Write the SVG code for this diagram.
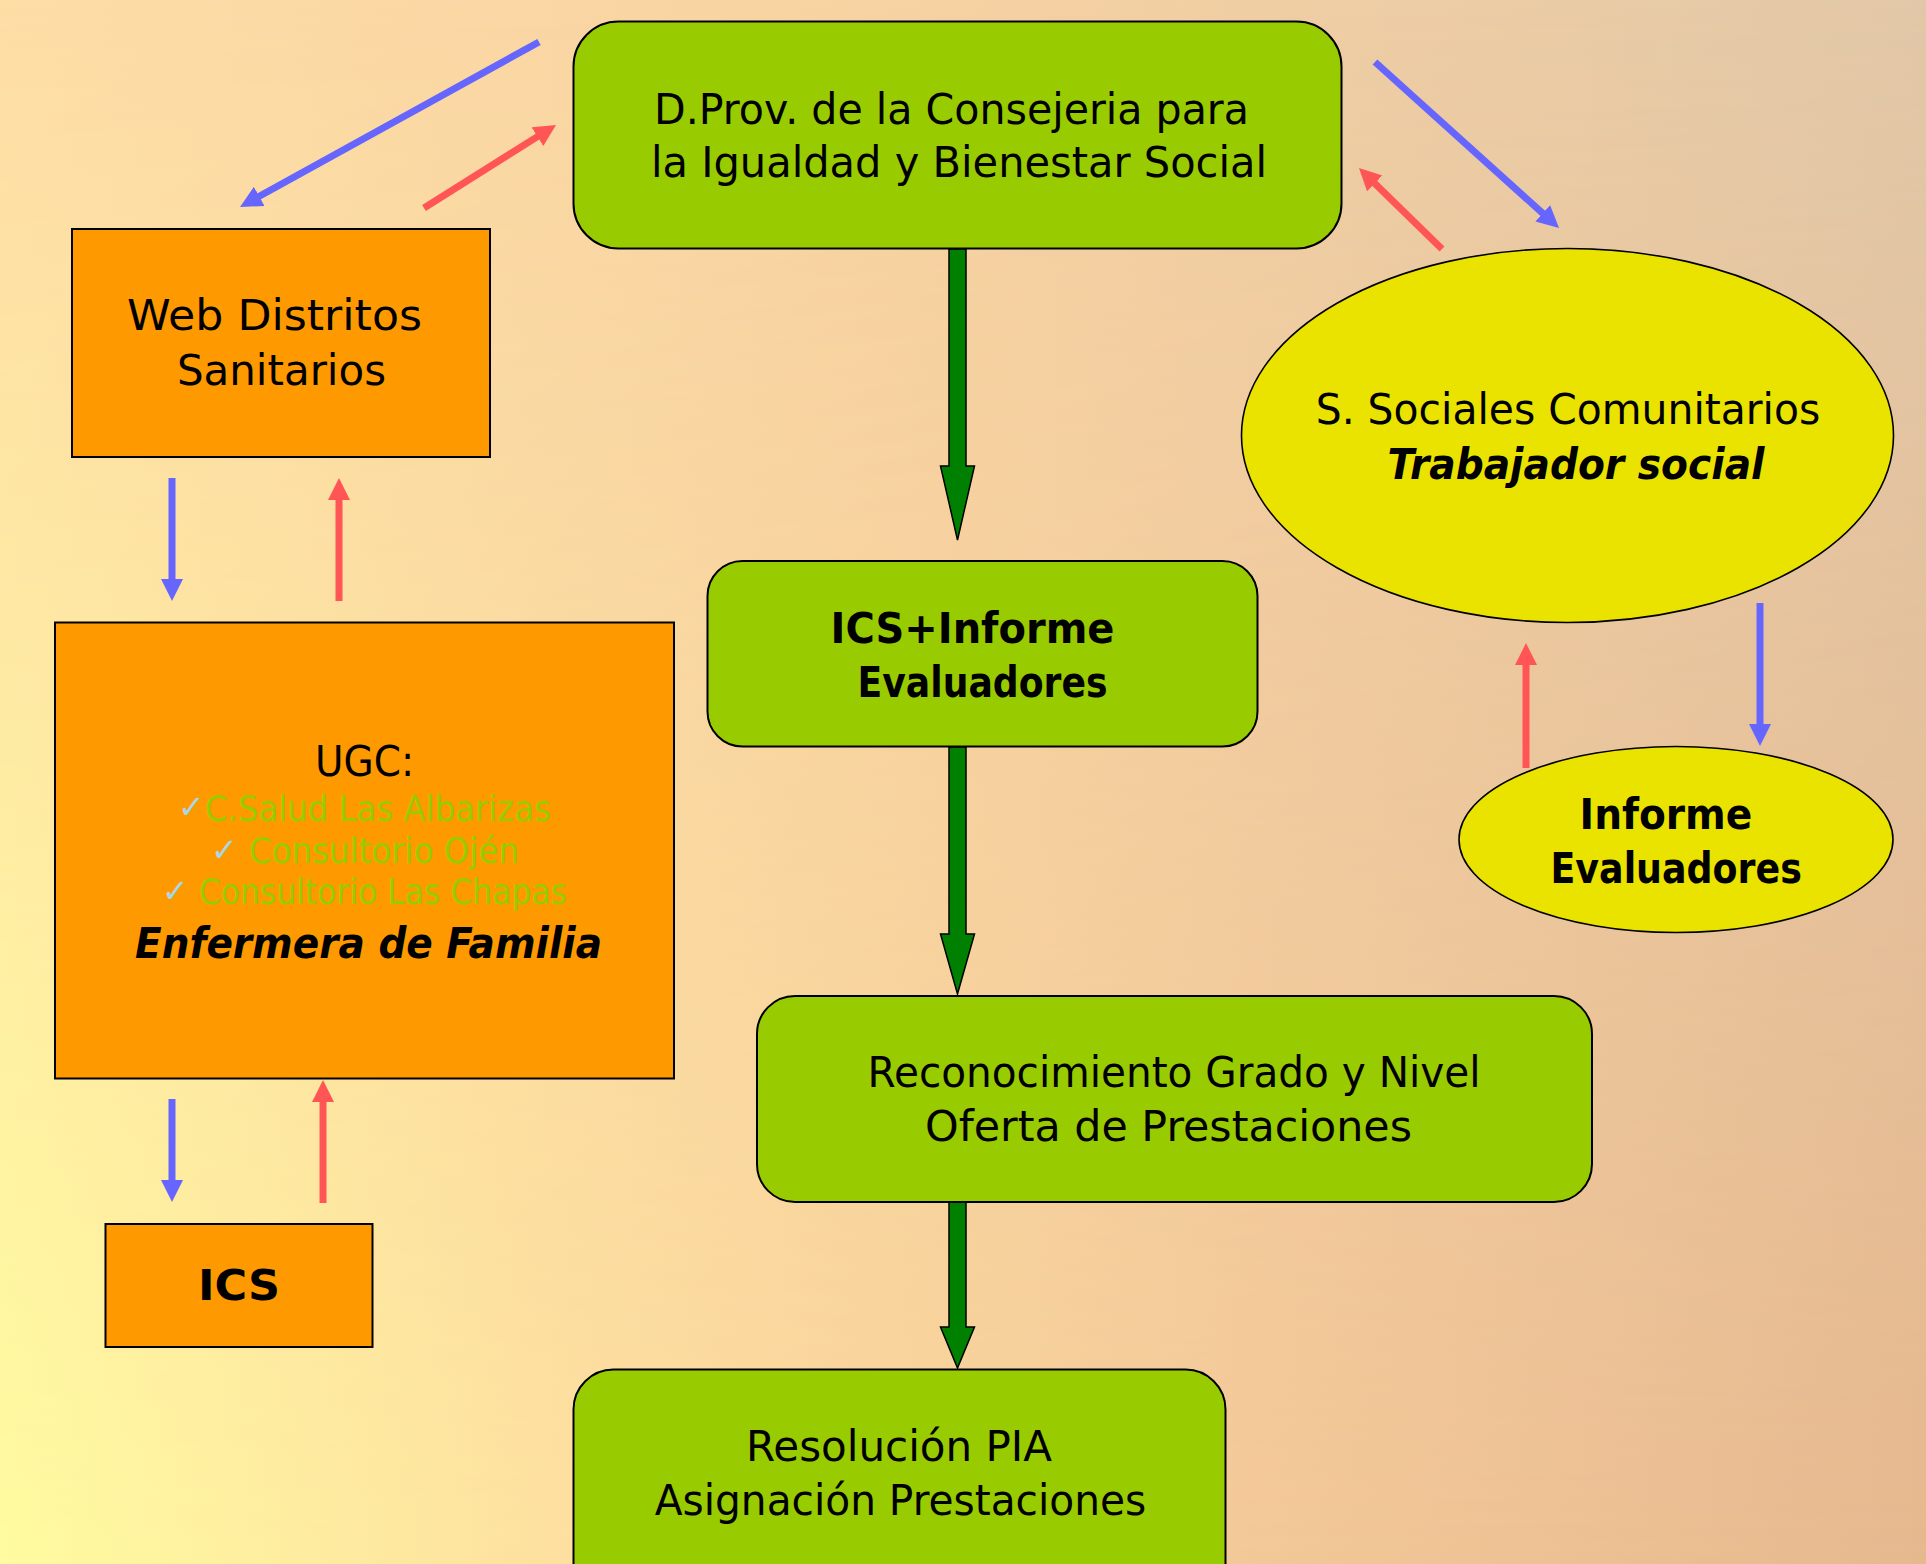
<svg xmlns="http://www.w3.org/2000/svg" width="1926" height="1564" viewBox="0 0 1926 1564">
<defs>
<linearGradient id="bgTop" x1="0" y1="0" x2="1" y2="0">
<stop offset="0" stop-color="#FEDDA6"/><stop offset="0.5" stop-color="#F6D1A2"/><stop offset="1" stop-color="#E2C8A8"/>
</linearGradient>
<linearGradient id="bgBot" x1="0" y1="0" x2="1" y2="0">
<stop offset="0" stop-color="#FFFBA0"/><stop offset="0.3" stop-color="#FDDF9F"/><stop offset="0.65" stop-color="#F3C898"/><stop offset="1" stop-color="#E6B88E"/>
</linearGradient>
<linearGradient id="fade" x1="0" y1="0" x2="0" y2="1">
<stop offset="0" stop-color="#000"/><stop offset="1" stop-color="#fff"/>
</linearGradient>
<mask id="fadeMask"><rect x="0" y="0" width="1926" height="1564" fill="url(#fade)"/></mask>
<marker id="headBlue" markerUnits="userSpaceOnUse" markerWidth="24" markerHeight="24" refX="2" refY="11" orient="auto">
<path d="M0,0 L22,11 L0,22 Z" fill="#6666FF"/>
</marker>
<marker id="headRed" markerUnits="userSpaceOnUse" markerWidth="24" markerHeight="24" refX="2" refY="11" orient="auto">
<path d="M0,0 L22,11 L0,22 Z" fill="#FF5555"/>
</marker>
<style>
.t{font-family:"Comic Sans MS","DejaVu Sans",sans-serif;font-size:42px;fill:#000;}
.b{font-weight:bold;}
.i{font-style:italic;}
.list{font-size:36px;fill:#99CC00;}
.chk{font-size:32px;fill:#A8D8E6;}
.green{fill:#99CC00;stroke:#000;stroke-width:2;}
.orange{fill:#FF9900;stroke:#000;stroke-width:2;}
.yellow{fill:#EAE300;stroke:#000;stroke-width:1.6;}
.blue{stroke:#6666FF;stroke-width:7;fill:none;marker-end:url(#headBlue);}
.red{stroke:#FF5555;stroke-width:7;fill:none;marker-end:url(#headRed);}
.flow{fill:#008000;stroke:#000;stroke-width:1.5;}
</style>
</defs>
<rect x="0" y="0" width="1926" height="1564" fill="url(#bgTop)"/>
<rect x="0" y="0" width="1926" height="1564" fill="url(#bgBot)" mask="url(#fadeMask)"/>

<g id="connectors">
<line class="blue" x1="539" y1="42" x2="257.5" y2="197.3"/>
<line class="red" x1="424" y1="208" x2="539.1" y2="135.6"/>
<line class="blue" x1="172" y1="478" x2="172" y2="581"/>
<line class="red" x1="339" y1="601" x2="339" y2="498"/>
<line class="blue" x1="172" y1="1099" x2="172" y2="1182"/>
<line class="red" x1="323" y1="1203" x2="323" y2="1100"/>
<line class="blue" x1="1375" y1="62" x2="1544.2" y2="214.6"/>
<line class="red" x1="1442" y1="249" x2="1373.3" y2="182"/>
<line class="blue" x1="1760" y1="603" x2="1760" y2="726"/>
<line class="red" x1="1526" y1="768" x2="1526" y2="663"/>
<path class="flow" d="M949,249 L966,249 L966,466 L974.5,466 L957.5,540 L940.5,466 L949,466 Z"/>
<path class="flow" d="M949,747 L966,747 L966,934 L974.5,934 L957.5,994 L940.5,934 L949,934 Z"/>
<path class="flow" d="M949,1202 L966,1202 L966,1327 L974.5,1327 L957.5,1368 L940.5,1327 L949,1327 Z"/>
</g>

<g id="dprov">
<rect class="green" x="573.5" y="21.5" width="768" height="227" rx="45" ry="45"/>
<text class="t" x="654" y="124" textLength="595" lengthAdjust="spacingAndGlyphs">D.Prov. de la Consejeria para</text>
<text class="t" x="651" y="177" textLength="616" lengthAdjust="spacingAndGlyphs">la Igualdad y Bienestar Social</text>
</g>

<g id="web">
<rect class="orange" x="72" y="229" width="418" height="228"/>
<text class="t" x="127" y="330" textLength="295" lengthAdjust="spacingAndGlyphs">Web Distritos</text>
<text class="t" x="177" y="385" textLength="209" lengthAdjust="spacingAndGlyphs">Sanitarios</text>
</g>

<g id="ugc">
<rect class="orange" x="55" y="622.5" width="619" height="456"/>
<text class="t" x="315" y="775.5" textLength="99" lengthAdjust="spacingAndGlyphs">UGC:</text>
<text class="t chk" x="178" y="818">✓</text>
<text class="t list" x="205" y="820.5" textLength="346" lengthAdjust="spacingAndGlyphs">C.Salud Las Albarizas</text>
<text class="t chk" x="211" y="861">✓</text>
<text class="t list" x="249" y="863" textLength="270" lengthAdjust="spacingAndGlyphs">Consultorio Ojén</text>
<text class="t chk" x="162" y="902">✓</text>
<text class="t list" x="199" y="904" textLength="368" lengthAdjust="spacingAndGlyphs">Consultorio Las Chapas</text>
<text class="t b i" x="135" y="957.7" textLength="467" lengthAdjust="spacingAndGlyphs">Enfermera de Familia</text>
</g>

<g id="ics">
<rect class="orange" x="105.5" y="1224" width="267" height="123"/>
<text class="t b" x="198" y="1300" textLength="82" lengthAdjust="spacingAndGlyphs">ICS</text>
</g>

<g id="icsinforme">
<rect class="green" x="707.5" y="561" width="550" height="185.5" rx="35" ry="35"/>
<text class="t b" x="830.5" y="642.5" textLength="284" lengthAdjust="spacingAndGlyphs">ICS+Informe</text>
<text class="t b" x="857.5" y="696.7" textLength="250" lengthAdjust="spacingAndGlyphs">Evaluadores</text>
</g>

<g id="reconocimiento">
<rect class="green" x="757" y="996" width="835" height="206" rx="38" ry="38"/>
<text class="t" x="867.6" y="1087" textLength="613" lengthAdjust="spacingAndGlyphs">Reconocimiento Grado y Nivel</text>
<text class="t" x="925" y="1141" textLength="487" lengthAdjust="spacingAndGlyphs">Oferta de Prestaciones</text>
</g>

<g id="resolucion">
<rect class="green" x="573.5" y="1369.5" width="652" height="240" rx="40" ry="40"/>
<text class="t" x="746" y="1461" textLength="306" lengthAdjust="spacingAndGlyphs">Resolución PIA</text>
<text class="t" x="654.7" y="1515" textLength="491.5" lengthAdjust="spacingAndGlyphs">Asignación Prestaciones</text>
</g>

<g id="sociales">
<ellipse class="yellow" cx="1567.5" cy="435.5" rx="326" ry="187"/>
<text class="t" x="1315.7" y="424" textLength="504.6" lengthAdjust="spacingAndGlyphs">S. Sociales Comunitarios</text>
<text class="t b i" x="1387.5" y="479" textLength="377" lengthAdjust="spacingAndGlyphs">Trabajador social</text>
</g>

<g id="informe">
<ellipse class="yellow" cx="1676" cy="839.5" rx="217" ry="93"/>
<text class="t b" x="1579.6" y="828.5" textLength="172.7" lengthAdjust="spacingAndGlyphs">Informe</text>
<text class="t b" x="1550.5" y="883" textLength="251.4" lengthAdjust="spacingAndGlyphs">Evaluadores</text>
</g>
</svg>
